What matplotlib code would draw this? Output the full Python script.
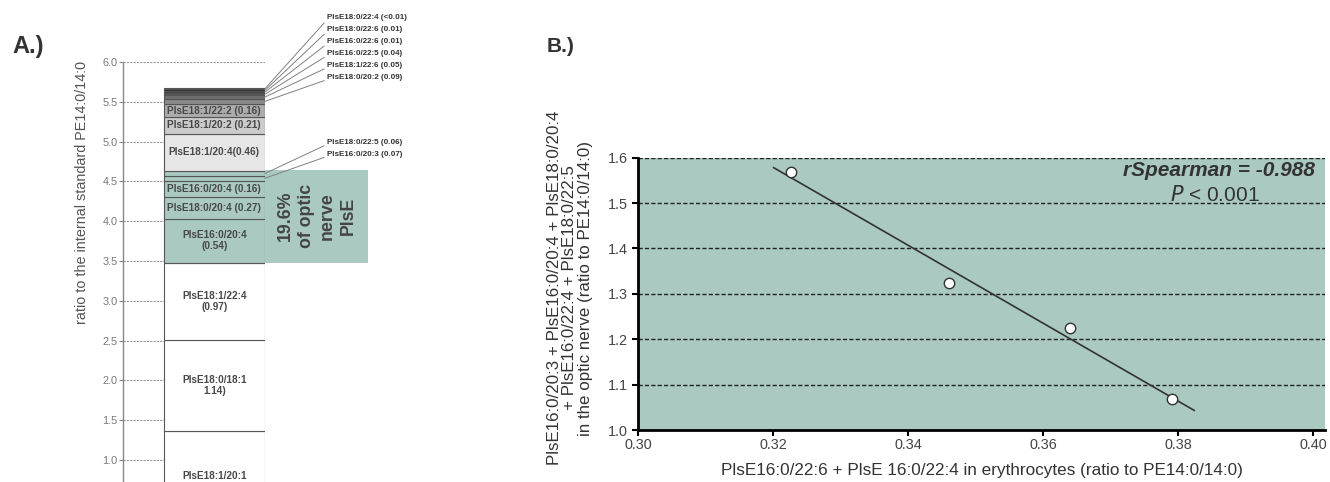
import numpy as np
import matplotlib
matplotlib.use('Agg')
import matplotlib.pyplot as plt
from matplotlib.patches import Rectangle

plt.rcParams['font.family'] = ['Liberation Sans', 'DejaVu Sans']

W, H = 1330, 482

# Panel A: stacked PlsE species in the optic nerve (bottom -> top)
seg_labels = ["PlsE18:1/20:1", "PlsE18:0/18:1\n1.14)", "PlsE18:1/22:4\n(0.97)",
              "PlsE16:0/20:4\n(0.54)", "PlsE18:0/20:4 (0.27)", "PlsE16:0/20:4 (0.16)",
              "PlsE16:0/20:3 (0.07)", "PlsE18:0/22:5 (0.06)", "PlsE18:1/20:4(0.46)",
              "PlsE18:1/20:2 (0.21)", "PlsE18:1/22:2 (0.16)", "PlsE18:0/20:2 (0.09)",
              "PlsE18:1/22:6 (0.05)", "PlsE16:0/22:5 (0.04)", "PlsE16:0/22:6 (0.01)",
              "PlsE18:0/22:6 (0.01)", "PlsE18:0/22:4 (<0.01)"]
seg_heights = [1.36, 1.15, 0.97, 0.55, 0.27, 0.21, 0.06, 0.06, 0.47,
               0.21, 0.16, 0.07, 0.04, 0.03, 0.025, 0.02, 0.02]
seg_colors = ['white', 'white', 'white', '#a9c9c1', '#a9c9c1', '#a9c9c1', '#a9c9c1', '#a9c9c1',
              '#e6e6e6', '#cbcbcb', '#acacac', '#8a8a8a', '#707070', '#585858', '#444444',
              '#2c2c2c', '#141414']
share_text = "19.6%\nof optic\nnerve\nPlsE"

# Panel B: correlation
x_ery = [0.3226, 0.3461, 0.3640, 0.3791]
y_nerve = [1.569, 1.323, 1.224, 1.068]
fit_x = [0.3201, 0.3824]
r_text = "rSpearman = -0.988"


def fpos(x, y):
    # top-left pixel -> figure fraction
    return x / W, 1 - y / H


fig = plt.figure(figsize=(W / 100, H / 100), dpi=100)

# ---------- A.) ----------
y0_px, y6_px = 539.6, 62.0
axA = fig.add_axes([123 / W, 1 - y0_px / H, 142 / W, (y0_px - y6_px) / H])
axA.set_xlim(0, 1.4)
axA.set_ylim(0, 6.0)
axA.set_yticks(np.arange(1.0, 6.01, 0.5))
axA.yaxis.set_major_formatter(matplotlib.ticker.FormatStrFormatter('%.1f'))
axA.set_xticks([])
for s in ['top', 'right', 'bottom']:
    axA.spines[s].set_visible(False)
axA.spines['left'].set_color('#888888')
axA.spines['left'].set_linewidth(1)
axA.tick_params(axis='y', length=3, color='#888888', labelcolor='#777777', labelsize=7.8, pad=1)
axA.yaxis.grid(True, linestyle=(0, (2, 1)), color='#999999', lw=0.8)
axA.set_axisbelow(True)

bottom = 0
mids = []
for h, c in zip(seg_heights, seg_colors):
    axA.bar(0.4, h, width=1.0, bottom=bottom, align='edge', color=c,
            edgecolor='#555555', lw=0.8, zorder=2)
    mids.append(bottom + h / 2)
    bottom += h
# bottom segment is cut by the figure edge: keep its label in the visible part
mids[0] = (y0_px - 476) / ((y0_px - y6_px) / 6.0)

# teal highlight box next to the bar
axA.add_patch(Rectangle((1.4, 3.47), 1.016, 1.17, facecolor='#a9c9c1', edgecolor='none',
                        clip_on=False, zorder=1))
fig.text(*fpos(317, 216), share_text, rotation=90, ha='center', va='center',
         fontsize=12.8, fontweight='bold', color='#444444', linespacing=1.3,
         multialignment='center')

callout_y = {6: 154.3, 7: 142.3, 11: 77.5, 12: 65.5, 13: 53.5, 14: 41.7, 15: 29.5, 16: 17.7}
for i, (lab, m) in enumerate(zip(seg_labels, mids)):
    if i in callout_y:
        axA.annotate(lab, xy=(1.4, m), xycoords='data',
                     xytext=(327, H - callout_y[i]), textcoords='figure pixels',
                     ha='left', va='center', fontsize=5.8, fontweight='bold', color='#333333',
                     annotation_clip=False,
                     arrowprops=dict(arrowstyle='-', color='#808080', lw=0.7,
                                     shrinkA=0, shrinkB=0, relpos=(0, 0.2)))
    else:
        axA.text(0.9, m, lab, ha='center', va='center', fontsize=7.2, fontweight='bold',
                 color='#484848', linespacing=1.1, zorder=3)

fig.text(*fpos(82, 193), "ratio to the internal standard PE14:0/14:0", rotation=90,
         ha='center', va='center', fontsize=10.4, color='#555555')
fig.text(*fpos(12, 46), "A.)", ha='left', va='center', fontsize=17, fontweight='bold',
         color='#333333')

# ---------- B.) ----------
axB = fig.add_axes([638 / W, 1 - 430 / H, 687 / W, (430 - 157.7) / H])
axB.set_facecolor('#a9c9c1')
axB.set_xlim(0.30, 0.40178)
axB.set_ylim(1.0, 1.6)
axB.set_xticks(np.arange(0.30, 0.4001, 0.02))
axB.set_yticks(np.arange(1.0, 1.601, 0.1))
axB.xaxis.set_major_formatter(matplotlib.ticker.FormatStrFormatter('%.2f'))
axB.yaxis.set_major_formatter(matplotlib.ticker.FormatStrFormatter('%.1f'))
for s in ['top', 'right']:
    axB.spines[s].set_visible(False)
for s in ['left', 'bottom']:
    axB.spines[s].set_linewidth(2)
    axB.spines[s].set_color('black')
axB.tick_params(length=4, width=1.5, color='black', labelcolor='#444444', labelsize=10.4)
axB.tick_params(axis='x', pad=1.5)
axB.yaxis.grid(True, linestyle=(0, (3, 1.6)), color='#222222', lw=1)
axB.set_axisbelow(True)

slope, icpt = np.polyfit(x_ery, y_nerve, 1)
fx = np.array(fit_x)
axB.plot(fx, slope * fx + icpt, color='#333333', lw=1.2, zorder=2)
axB.plot(x_ery, y_nerve, 'o', ms=7.5, mfc='white', mec='#333333', mew=1, zorder=3)

axB.set_xlabel("PlsE16:0/22:6 + PlsE 16:0/22:4 in erythrocytes (ratio to PE14:0/14:0)",
               fontsize=12.3, color='#333333', labelpad=8)
fig.text(*fpos(570, 288),
         "PlsE16:0/20:3 + PlsE16:0/20:4 + PlsE18:0/20:4\n+ PlsE16:0/22:4 + PlsE18:0/22:5\n"
         "in the optic nerve (ratio to PE14:0/14:0)",
         rotation=90, ha='center', va='center', multialignment='center',
         fontsize=12.2, color='#333333', linespacing=1.05)
fig.text(*fpos(1315, 170), r_text, ha='right', va='center', fontsize=15,
         fontweight='bold', fontstyle='italic', color='#333333')
fig.text(*fpos(1215, 195), r"$\it{P}$ < 0.001", ha='center', va='center', fontsize=15,
         color='#333333')
fig.text(*fpos(547, 46), "B.)", ha='left', va='center', fontsize=15, fontweight='bold',
         color='#333333')

fig.savefig('out.png', dpi=100)
